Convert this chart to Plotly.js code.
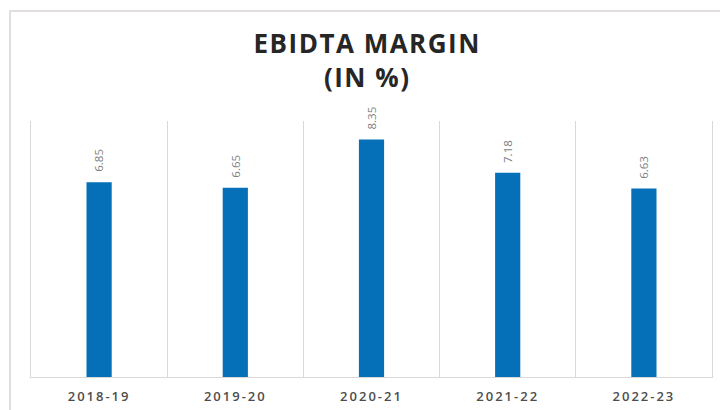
<!DOCTYPE html>
<html>
<head>
<meta charset="utf-8">
<script src="https://cdn.plot.ly/plotly-3.0.1.min.js"></script>
<style>
  html, body { margin: 0; padding: 0; background: #fff; }
  #wrap { position: relative; width: 720px; height: 410px; overflow: hidden; }
  #chart { width: 720px; height: 410px; }
  #frame { position: absolute; left: 9px; top: 10px; width: 800px; height: 500px;
           border-top: 2px solid #e2dede; border-left: 2px solid #e2dede; pointer-events: none; box-sizing: border-box; }
  #chart .xtick text { letter-spacing: 2px; }
  #chart .gtitle { letter-spacing: 1.5px; }
</style>
</head>
<body>
<div id="wrap">
  <div id="chart"></div>
  <div id="frame"></div>
</div>
<script>
const categories = ["2018-19", "2019-20", "2020-21", "2021-22", "2022-23"];
const margins = [6.85, 6.65, 8.35, 7.18, 6.63];
const labels = ["6.85", "6.65", "8.35", "7.18", "6.63"];

const trace = {
  type: "bar",
  x: categories,
  y: margins,
  marker: { color: "#0570B8", line: { width: 0 } },
  hoverinfo: "skip"
};

const valueLabels = categories.map((c, i) => ({
  x: c,
  y: margins[i],
  xref: "x",
  yref: "y",
  text: labels[i],
  textangle: -90,
  showarrow: false,
  xanchor: "center",
  yanchor: "bottom",
  yshift: 8,
  font: { family: "Open Sans", size: 11.5, color: "#7f7f7f" }
}));

const layout = {
  width: 720,
  height: 410,
  margin: { l: 31, r: 8, t: 121, b: 33 },
  paper_bgcolor: "#ffffff",
  plot_bgcolor: "#ffffff",
  bargap: 0.815,
  showlegend: false,
  annotations: valueLabels,
  title: {
    text: "<b>EBIDTA MARGIN<br>(IN %)</b>",
    font: { family: "Open Sans", size: 26, color: "#262626" },
    xref: "container", x: 0.51, xanchor: "center",
    yref: "container", y: 0.87, yanchor: "top"
  },
  xaxis: {
    type: "category",
    tickson: "boundaries",
    showgrid: true,
    gridcolor: "#d9d9d9",
    gridwidth: 1,
    showline: true,
    linecolor: "#d9d9d9",
    linewidth: 1,
    ticks: "",
    ticklabelstandoff: 7,
    tickfont: { family: "Open Sans", size: 13, color: "#4d4d4d", weight: 600 }
  },
  yaxis: {
    range: [0, 9],
    showgrid: false,
    zeroline: false,
    showticklabels: false,
    ticks: "",
    showline: true,
    mirror: true,
    linecolor: "#d9d9d9",
    linewidth: 1
  }
};

Plotly.newPlot("chart", [trace], layout, { displayModeBar: false, staticPlot: true });
</script>
</body>
</html>
